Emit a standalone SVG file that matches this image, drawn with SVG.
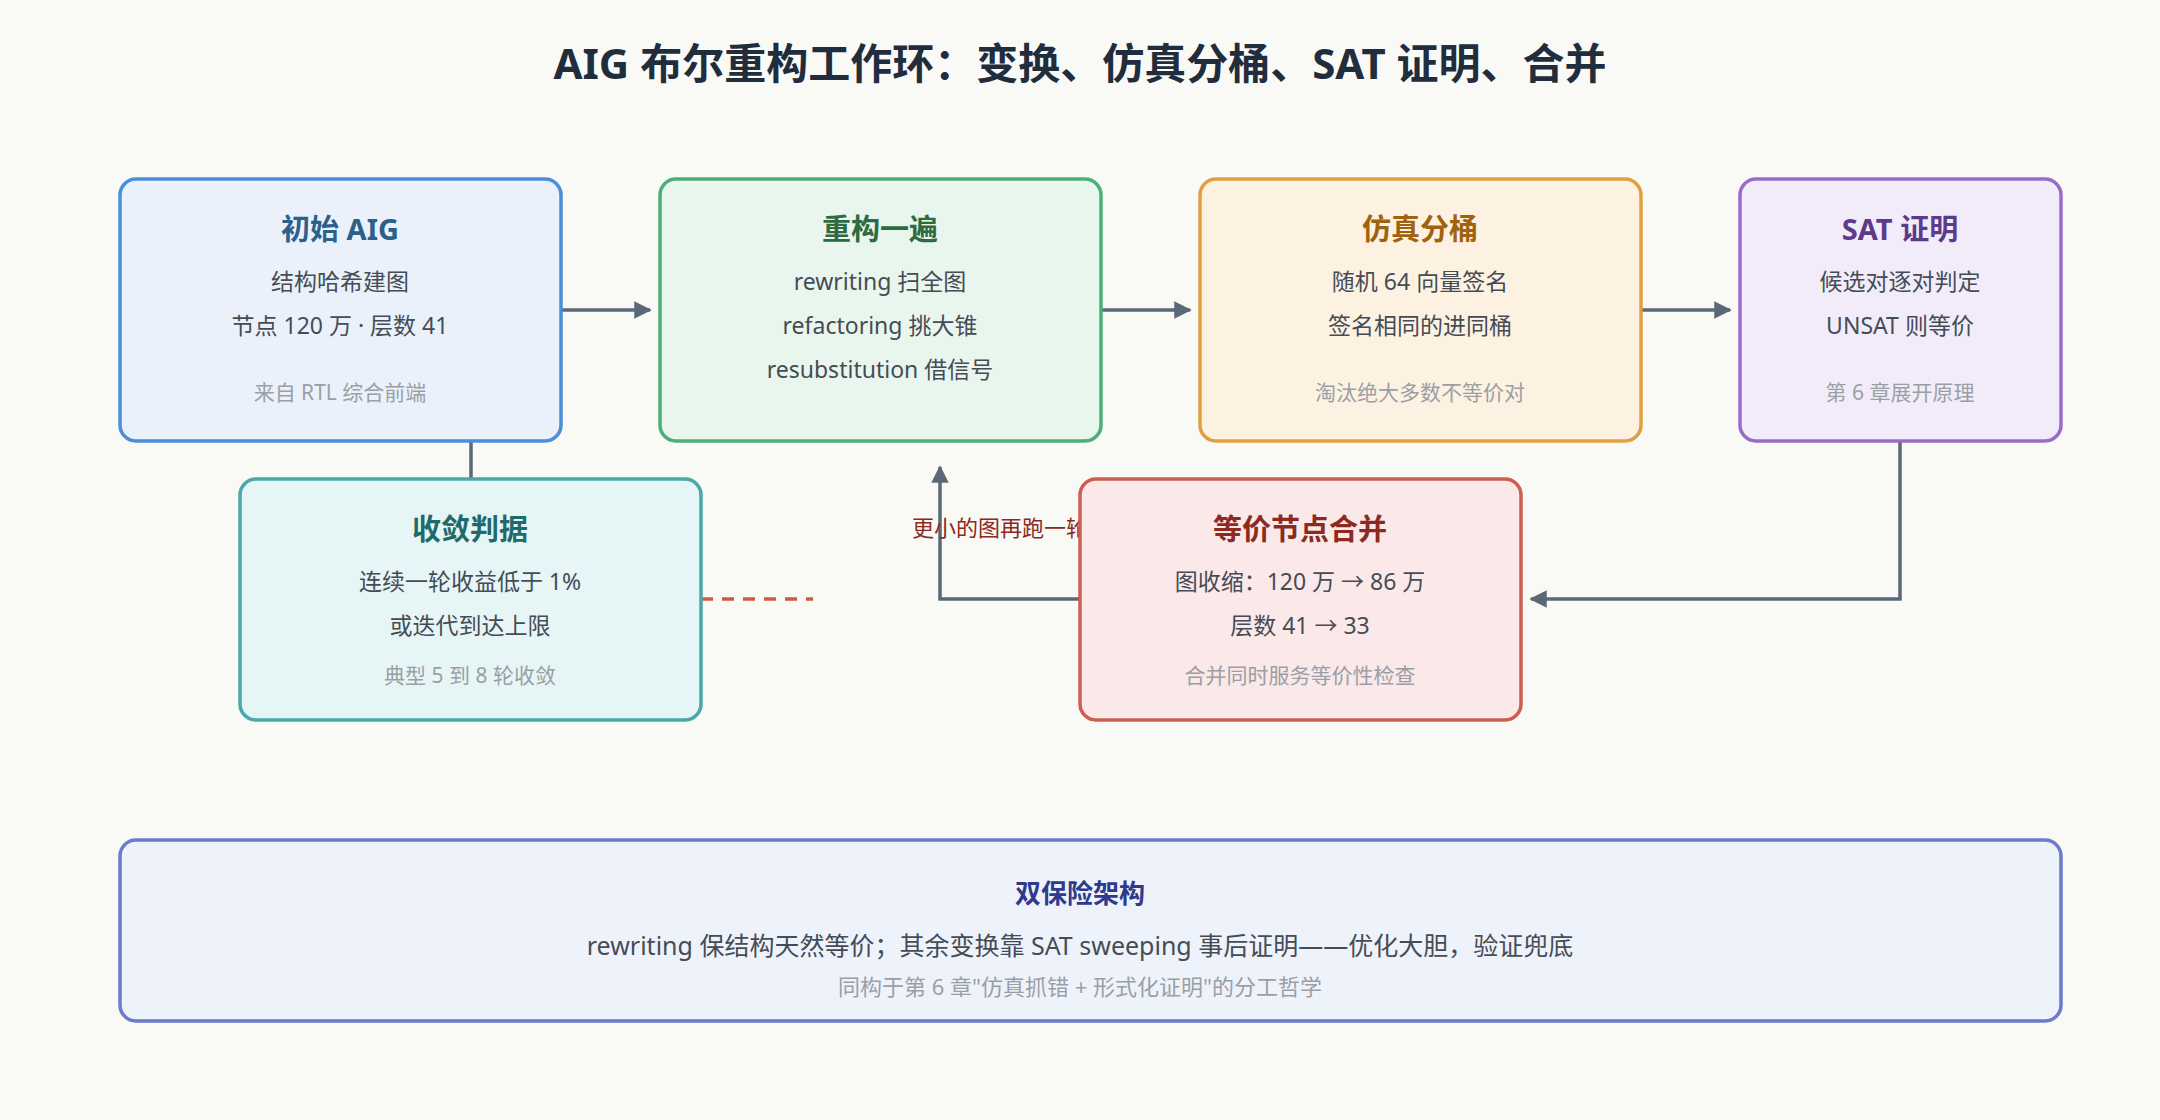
<svg xmlns="http://www.w3.org/2000/svg" width="2160" height="1120" viewBox="0 0 2160 1120">
<defs>
<marker id="ah" viewBox="0 0 10 10" refX="9" refY="5" markerWidth="5" markerHeight="5" orient="auto-start-reverse" markerUnits="strokeWidth"><path d="M0,0 L10,5 L0,10 z" fill="#5a6878"/></marker>
<style>
text{font-family:"Noto Sans","Noto Sans CJK SC",sans-serif;text-anchor:middle}
.box{stroke-width:3.5}
.t{font-size:29px;font-weight:bold}
.b{font-size:23px;fill:#454c55}
.f{font-size:21px;fill:#9a9fa6}
.c{fill:none;stroke:#5a6878;stroke-width:3.5}
</style>
</defs>
<rect width="2160" height="1120" fill="#f9f9f5"/>
<text x="1080" y="79" font-size="42" font-weight="bold" fill="#1f2d3d">AIG 布尔重构工作环：变换、仿真分桶、SAT 证明、合并</text>
<g id="connectors">
<path class="c" d="M561,310 L650,310" marker-end="url(#ah)"/>
<path class="c" d="M471,479 L471,310 L551,310" marker-end="url(#ah)"/>
<path class="c" d="M1101,310 L1190,310" marker-end="url(#ah)"/>
<path class="c" d="M1641,310 L1730,310" marker-end="url(#ah)"/>
<path class="c" d="M1900,441 L1900,599 L1531,599" marker-end="url(#ah)"/>
<path class="c" d="M1080,599 L940,599 L940,467" marker-end="url(#ah)"/>
<path d="M701,599 L813,599" fill="none" stroke="#d05a40" stroke-width="3.5" stroke-dasharray="12,9"/>
<text x="1000" y="536" font-size="22" fill="#8c2a1f">更小的图再跑一轮</text>
</g>
<g id="n1">
<rect class="box" x="120" y="179" width="441" height="262" rx="16" fill="#eaf1fb" stroke="#4a8fd9"/>
<text class="t" x="340" y="240" fill="#2c5f8a">初始 AIG</text>
<text class="b" x="340" y="290">结构哈希建图</text>
<text class="b" x="340" y="334">节点 120 万 · 层数 41</text>
<text class="f" x="340" y="400">来自 RTL 综合前端</text>
</g>
<g id="n2">
<rect class="box" x="660" y="179" width="441" height="262" rx="16" fill="#e9f6ee" stroke="#4caf7a"/>
<text class="t" x="880" y="240" fill="#2e6b40">重构一遍</text>
<text class="b" x="880" y="290">rewriting 扫全图</text>
<text class="b" x="880" y="334">refactoring 挑大锥</text>
<text class="b" x="880" y="378">resubstitution 借信号</text>
</g>
<g id="n3">
<rect class="box" x="1200" y="179" width="441" height="262" rx="16" fill="#fdf2e1" stroke="#e0a040"/>
<text class="t" x="1420" y="240" fill="#a0620f">仿真分桶</text>
<text class="b" x="1420" y="290">随机 64 向量签名</text>
<text class="b" x="1420" y="334">签名相同的进同桶</text>
<text class="f" x="1420" y="400">淘汰绝大多数不等价对</text>
</g>
<g id="n4">
<rect class="box" x="1740" y="179" width="321" height="262" rx="16" fill="#f2ecfa" stroke="#9a6cc8"/>
<text class="t" x="1900" y="240" fill="#5e3a8c">SAT 证明</text>
<text class="b" x="1900" y="290">候选对逐对判定</text>
<text class="b" x="1900" y="334">UNSAT 则等价</text>
<text class="f" x="1900" y="400">第 6 章展开原理</text>
</g>
<g id="n5">
<rect class="box" x="240" y="479" width="461" height="241" rx="16" fill="#e6f5f5" stroke="#4aa8a8"/>
<text class="t" x="470" y="540" fill="#1f6b6b">收敛判据</text>
<text class="b" x="470" y="590">连续一轮收益低于 1%</text>
<text class="b" x="470" y="634">或迭代到达上限</text>
<text class="f" x="470" y="683">典型 5 到 8 轮收敛</text>
</g>
<g id="n6">
<rect class="box" x="1080" y="479" width="441" height="241" rx="16" fill="#fbe8e8" stroke="#cc5e52"/>
<text class="t" x="1300" y="540" fill="#8c2a1f">等价节点合并</text>
<text class="b" x="1300" y="590">图收缩：120 万 → 86 万</text>
<text class="b" x="1300" y="634">层数 41 → 33</text>
<text class="f" x="1300" y="683">合并同时服务等价性检查</text>
</g>
<g id="n7">
<rect class="box" x="120" y="840" width="1941" height="181" rx="16" fill="#eef2fb" stroke="#6a7bd0"/>
<text x="1080" y="903" font-size="26" font-weight="bold" fill="#2e3a8c">双保险架构</text>
<text class="b" x="1080" y="955" font-size="25" style="font-size:25px">rewriting 保结构天然等价；其余变换靠 SAT sweeping 事后证明——优化大胆，验证兜底</text>
<text class="f" x="1080" y="995" style="font-size:22px">同构于第 6 章"仿真抓错 + 形式化证明"的分工哲学</text>
</g>
</svg>
